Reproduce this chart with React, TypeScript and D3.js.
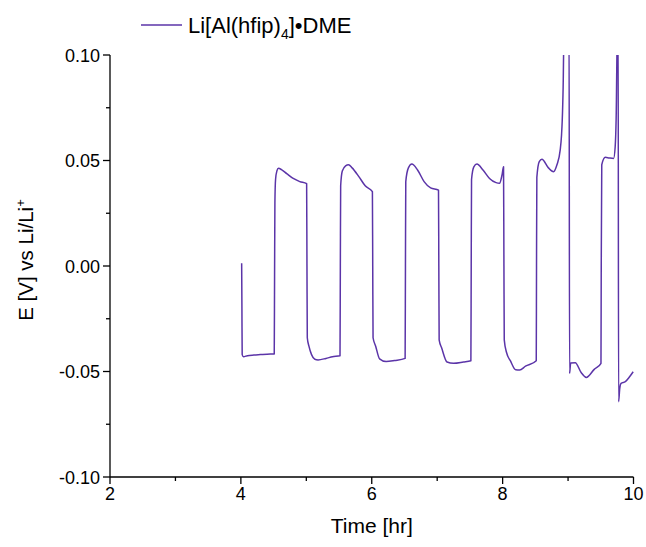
import React from "react";
import * as d3 from "d3";

const times: number[] = [
  4.012, 4.016, 4.02, 4.04, 4.1, 4.2, 4.3, 4.4, 4.51,
  4.515, 4.52, 4.53, 4.55, 4.575, 4.62, 4.7, 4.8, 4.9, 5.005,
  5.01, 5.015, 5.04, 5.08, 5.13, 5.18, 5.3, 5.4, 5.515,
  5.52, 5.525, 5.55, 5.6, 5.645, 5.7, 5.8, 5.9, 6.01,
  6.015, 6.02, 6.06, 6.12, 6.22, 6.35, 6.51,
  6.515, 6.52, 6.56, 6.613, 6.7, 6.8, 6.9, 7.02,
  7.025, 7.03, 7.07, 7.15, 7.25, 7.4, 7.515,
  7.52, 7.525, 7.56, 7.607, 7.7, 7.8, 7.9, 7.953, 7.99, 8.014,
  8.02, 8.025, 8.06, 8.12, 8.2, 8.26, 8.35, 8.514,
  8.518, 8.523, 8.56, 8.6, 8.7, 8.778, 8.83, 8.88, 8.9, 8.911, 8.925, 8.942,
  8.95, 9.015, 9.023, 9.04, 9.11, 9.2, 9.278, 9.4, 9.503,
  9.507, 9.515, 9.569, 9.63, 9.696, 9.72, 9.735, 9.757,
  9.765, 9.772, 9.79, 9.81, 9.875, 9.94, 9.995,
];
const potentials: number[] = [
  0.0013, -0.02, -0.042, -0.043, -0.0425, -0.0422, -0.042, -0.0418, -0.0417,
  -0.005, 0.03, 0.041, 0.045, 0.0463, 0.0457, 0.0438, 0.0415, 0.04, 0.039,
  0.0, -0.034, -0.038, -0.042, -0.0442, -0.0445, -0.0438, -0.043, -0.0425,
  0.0, 0.038, 0.045, 0.0475, 0.048, 0.0465, 0.0425, 0.038, 0.0352,
  0.0, -0.034, -0.038, -0.044, -0.0453, -0.0448, -0.0438,
  0.0, 0.04, 0.0465, 0.0483, 0.0455, 0.04, 0.037, 0.036,
  0.0, -0.035, -0.039, -0.0455, -0.0461, -0.0455, -0.0449,
  0.0, 0.041, 0.047, 0.0483, 0.0455, 0.0415, 0.0395, 0.0392, 0.043, 0.047,
  0.0, -0.035, -0.041, -0.045, -0.0492, -0.0493, -0.0475, -0.0449,
  0.0, 0.042, 0.0495, 0.0506, 0.0465, 0.0447, 0.048, 0.055, 0.062, 0.069, 0.085, 0.12,
  0.12, 0.12, -0.0509, -0.046, -0.0458, -0.0505, -0.0528, -0.049, -0.0461,
  0.0, 0.048, 0.0515, 0.0512, 0.051, 0.0565, 0.07, 0.12,
  0.12, -0.0643, -0.058, -0.0556, -0.0548, -0.0525, -0.0501,
];

const xTicks: number[] = [2, 4, 6, 8, 10];
const xMinor: number[] = [3, 5, 7, 9];
const yTicks: number[] = [-0.1, -0.05, 0, 0.05, 0.1];
const yMinor: number[] = [-0.075, -0.025, 0.025, 0.075];

const COLOR = "#5b34a8";
const FONT = "'Liberation Sans', Arial, sans-serif";

export default function App() {
  const W = 646, H = 547;
  const left = 110, right = 633.5, top = 55, bottom = 477;
  const x = d3.scaleLinear().domain([2, 10]).range([left, right]);
  const y = d3.scaleLinear().domain([-0.1, 0.1]).range([bottom, top]);
  const pts = times.map((t, i) => [t, potentials[i]] as [number, number]);
  const line = d3.line<[number, number]>().x(d => x(d[0])).y(d => y(d[1])).curve(d3.curveMonotoneX);
  return (
    <svg width={W} height={H} style={{ position: "absolute", left: 0, top: 0, background: "#fff" }}>
      <defs>
        <clipPath id="plotclip">
          <rect x={left} y={top} width={right - left + 4} height={bottom - top} />
        </clipPath>
      </defs>
      <rect width={W} height={H} fill="#fff" />
      <path d={line(pts) || ""} fill="none" stroke={COLOR} strokeWidth={1.5} strokeLinejoin="round" clipPath="url(#plotclip)" />
      <line x1={left} x2={left} y1={top} y2={bottom} stroke="#000" strokeWidth={1.3} />
      <line x1={left} x2={right} y1={bottom} y2={bottom} stroke="#000" strokeWidth={1.3} />
      {xTicks.map(t => (
        <g key={"xt" + t}>
          <line x1={x(t)} x2={x(t)} y1={bottom} y2={bottom + 7} stroke="#000" strokeWidth={1.3} />
          <text x={x(t)} y={bottom + 23} textAnchor="middle" fontFamily={FONT} fontSize={18}>{t}</text>
        </g>
      ))}
      {xMinor.map(t => (
        <line key={"xm" + t} x1={x(t)} x2={x(t)} y1={bottom} y2={bottom + 4} stroke="#000" strokeWidth={1.3} />
      ))}
      {yTicks.map(v => (
        <g key={"yt" + v}>
          <line x1={left - 7} x2={left} y1={y(v)} y2={y(v)} stroke="#000" strokeWidth={1.3} />
          <text x={left - 10} y={y(v) + 6.5} textAnchor="end" fontFamily={FONT} fontSize={18}>{d3.format(".2f")(v).replace("−", "-")}</text>
        </g>
      ))}
      {yMinor.map(v => (
        <line key={"ym" + v} x1={left - 4} x2={left} y1={y(v)} y2={y(v)} stroke="#000" strokeWidth={1.3} />
      ))}
      <text x={(left + right) / 2} y={533} textAnchor="middle" fontFamily={FONT} fontSize={21}>Time [hr]</text>
      <text transform={`translate(33,260) rotate(-90)`} textAnchor="middle" fontFamily={FONT} fontSize={20.5}>
        E [V] vs Li/Li<tspan dy={-8} fontSize={13}>+</tspan>
      </text>
      <line x1={141} x2={182} y1={25} y2={25} stroke={COLOR} strokeWidth={1.5} />
      <text x={188} y={33} fontFamily={FONT} fontSize={22}>
        Li[Al(hfip)<tspan dy={6} fontSize={14}>4</tspan><tspan dy={-6}>]•DME</tspan>
      </text>
    </svg>
  );
}
